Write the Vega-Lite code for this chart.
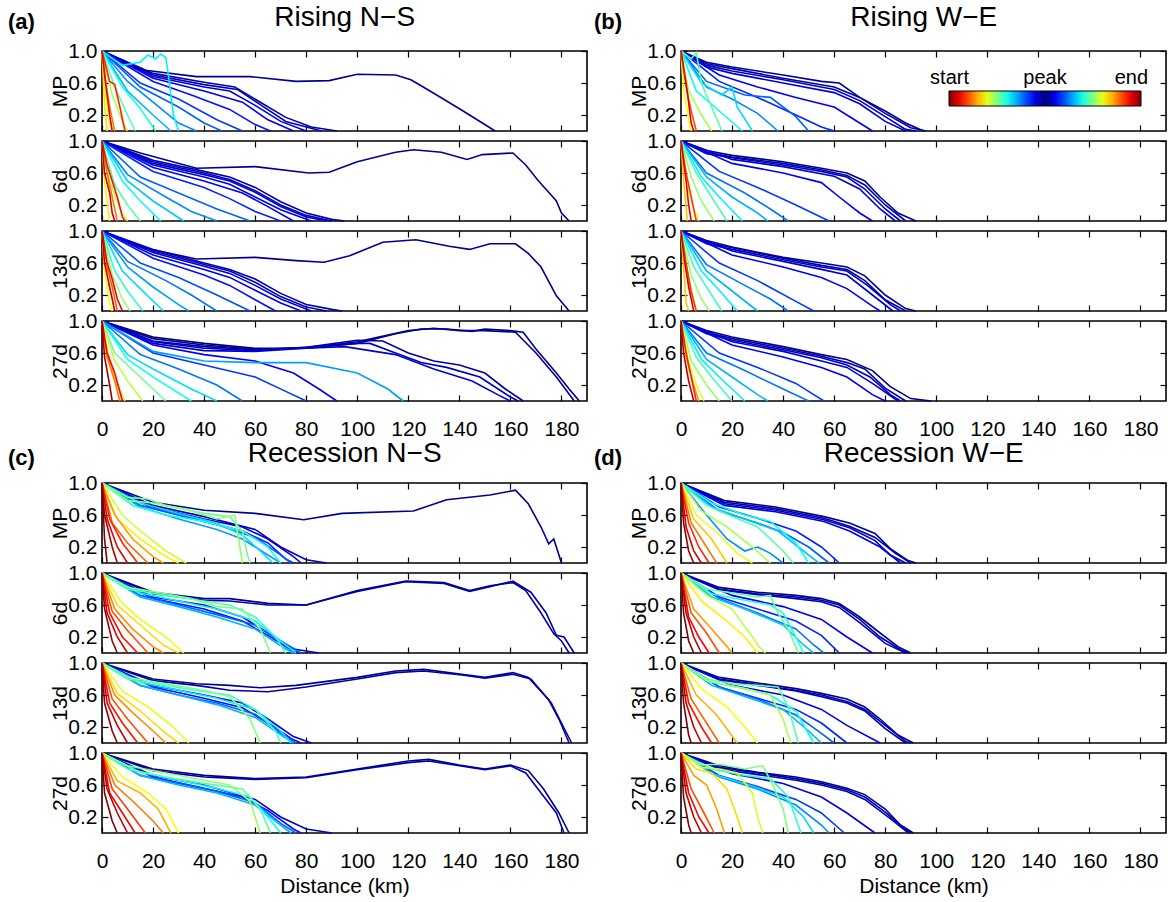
{
"$schema":"https://vega.github.io/schema/vega-lite/v6.json",
"background":"white",
"padding":{"left":8,"top":4,"right":0,"bottom":2},
"config":{
"font":"Liberation Sans",
"view":{"stroke":"black","strokeWidth":1.6},
"line":{"strokeWidth":1.6},
"axis":{"domain":false,"grid":false,"ticks":true,"tickSize":-6,"tickColor":"black","tickWidth":1.2,"labelFont":"Liberation Sans","labelFontSize":21,"labelColor":"black","titleFont":"Liberation Sans","titleFontSize":21,"titleFontWeight":"normal","titleColor":"black"},
"axisX":{"labelPadding":23,"titlePadding":4,"tickCount":10,"labelFlush":false},
"axisY":{"labelPadding":11,"titlePadding":-3},
"title":{"font":"Liberation Sans","color":"black"},
"legend":{"orient":"none","direction":"horizontal","gradientLength":192,"gradientThickness":15,"gradientStrokeColor":"black","gradientStrokeWidth":1,"labelFont":"Liberation Sans","labelFontSize":20,"labelColor":"black","padding":0}
},
"datasets":{
"a1":[
{"c":49,"x":0,"y":1},{"c":49,"x":17,"y":0.76},{"c":49,"x":37,"y":0.68},{"c":49,"x":58,"y":0.68},{"c":49,"x":76,"y":0.62},{"c":49,"x":89,"y":0.63},{"c":49,"x":100,"y":0.71},{"c":49,"x":115,"y":0.7},{"c":49,"x":121,"y":0.64},{"c":49,"x":128,"y":0.51},{"c":49,"x":141,"y":0.26},{"c":49,"x":154,"y":0},
{"c":48,"x":0,"y":1},{"c":48,"x":20,"y":0.72},{"c":48,"x":40,"y":0.61},{"c":48,"x":52,"y":0.55},{"c":48,"x":62,"y":0.36},{"c":48,"x":72,"y":0.17},{"c":48,"x":82,"y":0.05},{"c":48,"x":92,"y":0},
{"c":47,"x":0,"y":1},{"c":47,"x":20,"y":0.7},{"c":47,"x":40,"y":0.58},{"c":47,"x":53,"y":0.52},{"c":47,"x":62,"y":0.33},{"c":47,"x":72,"y":0.12},{"c":47,"x":86,"y":0},
{"c":46,"x":0,"y":1},{"c":46,"x":20,"y":0.68},{"c":46,"x":40,"y":0.55},{"c":46,"x":50,"y":0.5},{"c":46,"x":60,"y":0.32},{"c":46,"x":70,"y":0.12},{"c":46,"x":80,"y":0},
{"c":45,"x":0,"y":1},{"c":45,"x":20,"y":0.66},{"c":45,"x":40,"y":0.5},{"c":45,"x":55,"y":0.36},{"c":45,"x":65,"y":0.14},{"c":45,"x":75,"y":0},
{"c":43,"x":0,"y":1},{"c":43,"x":20,"y":0.62},{"c":43,"x":35,"y":0.45},{"c":43,"x":50,"y":0.27},{"c":43,"x":60,"y":0.08},{"c":43,"x":66,"y":0},
{"c":41,"x":0,"y":1},{"c":41,"x":15,"y":0.6},{"c":41,"x":30,"y":0.4},{"c":41,"x":45,"y":0.14},{"c":41,"x":55,"y":0},
{"c":39,"x":0,"y":1},{"c":39,"x":15,"y":0.55},{"c":39,"x":30,"y":0.3},{"c":39,"x":40,"y":0.1},{"c":39,"x":47,"y":0},
{"c":37,"x":0,"y":1},{"c":37,"x":10,"y":0.62},{"c":37,"x":20,"y":0.36},{"c":37,"x":30,"y":0.1},{"c":37,"x":37,"y":0},
{"c":35,"x":0,"y":1},{"c":35,"x":10,"y":0.5},{"c":35,"x":20,"y":0.2},{"c":35,"x":27,"y":0},
{"c":32,"x":0,"y":1},{"c":32,"x":8,"y":0.82},{"c":32,"x":15,"y":0.86},{"c":32,"x":18,"y":0.95},{"c":32,"x":21,"y":0.9},{"c":32,"x":23,"y":0.96},{"c":32,"x":25,"y":0.92},{"c":32,"x":26,"y":0.7},{"c":32,"x":27,"y":0.45},{"c":32,"x":28,"y":0.2},{"c":32,"x":30,"y":0},
{"c":30,"x":0,"y":1},{"c":30,"x":8,"y":0.55},{"c":30,"x":15,"y":0.28},{"c":30,"x":21,"y":0},
{"c":27,"x":0,"y":1},{"c":27,"x":5,"y":0.55},{"c":27,"x":10,"y":0.2},{"c":27,"x":13,"y":0},
{"c":23,"x":0,"y":1},{"c":23,"x":4,"y":0.45},{"c":23,"x":8,"y":0.12},{"c":23,"x":10,"y":0},
{"c":19,"x":0,"y":1},{"c":19,"x":1.5,"y":0.4},{"c":19,"x":3,"y":0.1},{"c":19,"x":4,"y":0},
{"c":17,"x":0,"y":1},{"c":17,"x":1,"y":0.3},{"c":17,"x":2,"y":0},
{"c":12,"x":0,"y":1},{"c":12,"x":2,"y":0.5},{"c":12,"x":3,"y":0.3},{"c":12,"x":5,"y":0},
{"c":8,"x":0,"y":1},{"c":8,"x":3,"y":0.62},{"c":8,"x":5,"y":0.58},{"c":8,"x":7,"y":0.3},{"c":8,"x":9,"y":0},
{"c":5,"x":0,"y":1},{"c":5,"x":1,"y":0.7},{"c":5,"x":2,"y":0.45},{"c":5,"x":3,"y":0.2},{"c":5,"x":4,"y":0}
],
"a2":[
{"c":49,"x":0,"y":1},{"c":49,"x":15,"y":0.85},{"c":49,"x":37,"y":0.66},{"c":49,"x":60,"y":0.68},{"c":49,"x":81,"y":0.6},{"c":49,"x":89,"y":0.61},{"c":49,"x":100,"y":0.74},{"c":49,"x":115,"y":0.86},{"c":49,"x":122,"y":0.89},{"c":49,"x":133,"y":0.86},{"c":49,"x":143,"y":0.77},{"c":49,"x":149,"y":0.83},{"c":49,"x":161,"y":0.85},{"c":49,"x":166,"y":0.7},{"c":49,"x":171,"y":0.5},{"c":49,"x":175,"y":0.36},{"c":49,"x":178,"y":0.25},{"c":49,"x":180,"y":0.1},{"c":49,"x":183,"y":0},
{"c":48,"x":0,"y":1},{"c":48,"x":20,"y":0.76},{"c":48,"x":40,"y":0.62},{"c":48,"x":50,"y":0.55},{"c":48,"x":60,"y":0.42},{"c":48,"x":70,"y":0.24},{"c":48,"x":80,"y":0.1},{"c":48,"x":90,"y":0.02},{"c":48,"x":95,"y":0},
{"c":47,"x":0,"y":1},{"c":47,"x":20,"y":0.74},{"c":47,"x":40,"y":0.6},{"c":47,"x":50,"y":0.52},{"c":47,"x":60,"y":0.38},{"c":47,"x":70,"y":0.2},{"c":47,"x":80,"y":0.07},{"c":47,"x":90,"y":0},
{"c":46,"x":0,"y":1},{"c":46,"x":20,"y":0.72},{"c":46,"x":40,"y":0.58},{"c":46,"x":50,"y":0.5},{"c":46,"x":60,"y":0.36},{"c":46,"x":70,"y":0.18},{"c":46,"x":80,"y":0.05},{"c":46,"x":88,"y":0},
{"c":45,"x":0,"y":1},{"c":45,"x":20,"y":0.7},{"c":45,"x":40,"y":0.55},{"c":45,"x":50,"y":0.46},{"c":45,"x":60,"y":0.3},{"c":45,"x":70,"y":0.14},{"c":45,"x":82,"y":0},
{"c":44,"x":0,"y":1},{"c":44,"x":20,"y":0.67},{"c":44,"x":40,"y":0.5},{"c":44,"x":55,"y":0.35},{"c":44,"x":65,"y":0.18},{"c":44,"x":75,"y":0},
{"c":42,"x":0,"y":1},{"c":42,"x":20,"y":0.62},{"c":42,"x":40,"y":0.42},{"c":42,"x":50,"y":0.28},{"c":42,"x":60,"y":0.12},{"c":42,"x":70,"y":0},
{"c":39,"x":0,"y":1},{"c":39,"x":15,"y":0.55},{"c":39,"x":30,"y":0.35},{"c":39,"x":45,"y":0.15},{"c":39,"x":58,"y":0},
{"c":37,"x":0,"y":1},{"c":37,"x":10,"y":0.58},{"c":37,"x":25,"y":0.3},{"c":37,"x":35,"y":0.12},{"c":37,"x":45,"y":0},
{"c":34,"x":0,"y":1},{"c":34,"x":10,"y":0.5},{"c":34,"x":20,"y":0.25},{"c":34,"x":32,"y":0},
{"c":31,"x":0,"y":1},{"c":31,"x":8,"y":0.5},{"c":31,"x":15,"y":0.25},{"c":31,"x":23,"y":0},
{"c":27,"x":0,"y":1},{"c":27,"x":5,"y":0.45},{"c":27,"x":10,"y":0.2},{"c":27,"x":15,"y":0},
{"c":22,"x":0,"y":1},{"c":22,"x":3,"y":0.5},{"c":22,"x":7,"y":0.15},{"c":22,"x":10,"y":0},
{"c":18,"x":0,"y":1},{"c":18,"x":1,"y":0.5},{"c":18,"x":2.5,"y":0.1},{"c":18,"x":3,"y":0},
{"c":12,"x":0,"y":1},{"c":12,"x":2,"y":0.6},{"c":12,"x":4,"y":0.3},{"c":12,"x":6,"y":0},
{"c":7,"x":0,"y":1},{"c":7,"x":2,"y":0.7},{"c":7,"x":4,"y":0.5},{"c":7,"x":6,"y":0.3},{"c":7,"x":8,"y":0.05},{"c":7,"x":9,"y":0},
{"c":4,"x":0,"y":1},{"c":4,"x":1,"y":0.6},{"c":4,"x":3,"y":0.35},{"c":4,"x":4,"y":0.1},{"c":4,"x":5,"y":0}
],
"a3":[
{"c":49,"x":0,"y":1},{"c":49,"x":15,"y":0.8},{"c":49,"x":37,"y":0.65},{"c":49,"x":60,"y":0.67},{"c":49,"x":76,"y":0.63},{"c":49,"x":87,"y":0.61},{"c":49,"x":97,"y":0.69},{"c":49,"x":110,"y":0.86},{"c":49,"x":123,"y":0.89},{"c":49,"x":136,"y":0.81},{"c":49,"x":144,"y":0.77},{"c":49,"x":152,"y":0.84},{"c":49,"x":162,"y":0.84},{"c":49,"x":167,"y":0.72},{"c":49,"x":172,"y":0.55},{"c":49,"x":178,"y":0.19},{"c":49,"x":183,"y":0},
{"c":48,"x":0,"y":1},{"c":48,"x":20,"y":0.77},{"c":48,"x":40,"y":0.6},{"c":48,"x":50,"y":0.52},{"c":48,"x":60,"y":0.4},{"c":48,"x":70,"y":0.22},{"c":48,"x":80,"y":0.08},{"c":48,"x":90,"y":0.02},{"c":48,"x":94,"y":0},
{"c":47,"x":0,"y":1},{"c":47,"x":20,"y":0.75},{"c":47,"x":40,"y":0.58},{"c":47,"x":50,"y":0.5},{"c":47,"x":60,"y":0.36},{"c":47,"x":70,"y":0.18},{"c":47,"x":80,"y":0.05},{"c":47,"x":88,"y":0},
{"c":46,"x":0,"y":1},{"c":46,"x":20,"y":0.73},{"c":46,"x":40,"y":0.56},{"c":46,"x":50,"y":0.47},{"c":46,"x":60,"y":0.32},{"c":46,"x":70,"y":0.15},{"c":46,"x":82,"y":0},
{"c":45,"x":0,"y":1},{"c":45,"x":20,"y":0.7},{"c":45,"x":40,"y":0.52},{"c":45,"x":50,"y":0.42},{"c":45,"x":60,"y":0.26},{"c":45,"x":70,"y":0.1},{"c":45,"x":78,"y":0},
{"c":43,"x":0,"y":1},{"c":43,"x":20,"y":0.66},{"c":43,"x":40,"y":0.45},{"c":43,"x":50,"y":0.32},{"c":43,"x":60,"y":0.14},{"c":43,"x":68,"y":0},
{"c":40,"x":0,"y":1},{"c":40,"x":15,"y":0.6},{"c":40,"x":30,"y":0.42},{"c":40,"x":45,"y":0.2},{"c":40,"x":58,"y":0},
{"c":38,"x":0,"y":1},{"c":38,"x":10,"y":0.62},{"c":38,"x":25,"y":0.38},{"c":38,"x":35,"y":0.2},{"c":38,"x":45,"y":0},
{"c":36,"x":0,"y":1},{"c":36,"x":10,"y":0.55},{"c":36,"x":20,"y":0.3},{"c":36,"x":30,"y":0.08},{"c":36,"x":34,"y":0},
{"c":33,"x":0,"y":1},{"c":33,"x":8,"y":0.5},{"c":33,"x":15,"y":0.28},{"c":33,"x":24,"y":0},
{"c":29,"x":0,"y":1},{"c":29,"x":5,"y":0.5},{"c":29,"x":10,"y":0.25},{"c":29,"x":16,"y":0},
{"c":24,"x":0,"y":1},{"c":24,"x":4,"y":0.45},{"c":24,"x":8,"y":0.15},{"c":24,"x":11,"y":0},
{"c":19,"x":0,"y":1},{"c":19,"x":1,"y":0.5},{"c":19,"x":3,"y":0.1},{"c":19,"x":4,"y":0},
{"c":11,"x":0,"y":1},{"c":11,"x":2,"y":0.55},{"c":11,"x":4,"y":0.3},{"c":11,"x":6,"y":0},
{"c":6,"x":0,"y":1},{"c":6,"x":2,"y":0.6},{"c":6,"x":4,"y":0.4},{"c":6,"x":6,"y":0.15},{"c":6,"x":8,"y":0},
{"c":3,"x":0,"y":1},{"c":3,"x":1,"y":0.6},{"c":3,"x":3,"y":0.3},{"c":3,"x":5,"y":0}
],
"a4":[
{"c":50,"x":0,"y":1},{"c":50,"x":20,"y":0.8},{"c":50,"x":40,"y":0.72},{"c":50,"x":60,"y":0.66},{"c":50,"x":80,"y":0.66},{"c":50,"x":100,"y":0.72},{"c":50,"x":115,"y":0.84},{"c":50,"x":125,"y":0.9},{"c":50,"x":135,"y":0.9},{"c":50,"x":145,"y":0.87},{"c":50,"x":150,"y":0.9},{"c":50,"x":160,"y":0.88},{"c":50,"x":165,"y":0.86},{"c":50,"x":170,"y":0.65},{"c":50,"x":178,"y":0.35},{"c":50,"x":183,"y":0.15},{"c":50,"x":187,"y":0},
{"c":49,"x":0,"y":1},{"c":49,"x":20,"y":0.78},{"c":49,"x":40,"y":0.7},{"c":49,"x":60,"y":0.65},{"c":49,"x":80,"y":0.66},{"c":49,"x":100,"y":0.74},{"c":49,"x":120,"y":0.88},{"c":49,"x":130,"y":0.91},{"c":49,"x":140,"y":0.88},{"c":49,"x":150,"y":0.88},{"c":49,"x":162,"y":0.86},{"c":49,"x":170,"y":0.6},{"c":49,"x":178,"y":0.3},{"c":49,"x":185,"y":0},
{"c":48,"x":0,"y":1},{"c":48,"x":20,"y":0.75},{"c":48,"x":40,"y":0.68},{"c":48,"x":60,"y":0.64},{"c":48,"x":80,"y":0.67},{"c":48,"x":100,"y":0.76},{"c":48,"x":110,"y":0.75},{"c":48,"x":120,"y":0.6},{"c":48,"x":130,"y":0.5},{"c":48,"x":140,"y":0.45},{"c":48,"x":150,"y":0.35},{"c":48,"x":158,"y":0.15},{"c":48,"x":165,"y":0},
{"c":47,"x":0,"y":1},{"c":47,"x":20,"y":0.74},{"c":47,"x":40,"y":0.66},{"c":47,"x":60,"y":0.63},{"c":47,"x":80,"y":0.67},{"c":47,"x":100,"y":0.72},{"c":47,"x":105,"y":0.72},{"c":47,"x":115,"y":0.6},{"c":47,"x":125,"y":0.48},{"c":47,"x":135,"y":0.42},{"c":47,"x":148,"y":0.3},{"c":47,"x":160,"y":0.05},{"c":47,"x":163,"y":0},
{"c":46,"x":0,"y":1},{"c":46,"x":20,"y":0.72},{"c":46,"x":40,"y":0.63},{"c":46,"x":60,"y":0.62},{"c":46,"x":80,"y":0.66},{"c":46,"x":95,"y":0.68},{"c":46,"x":115,"y":0.58},{"c":46,"x":130,"y":0.4},{"c":46,"x":145,"y":0.25},{"c":46,"x":155,"y":0.08},{"c":46,"x":160,"y":0},
{"c":44,"x":0,"y":1},{"c":44,"x":20,"y":0.7},{"c":44,"x":40,"y":0.58},{"c":44,"x":60,"y":0.5},{"c":44,"x":75,"y":0.35},{"c":44,"x":85,"y":0.15},{"c":44,"x":92,"y":0},
{"c":41,"x":0,"y":1},{"c":41,"x":20,"y":0.6},{"c":41,"x":40,"y":0.45},{"c":41,"x":60,"y":0.3},{"c":41,"x":72,"y":0.12},{"c":41,"x":80,"y":0},
{"c":36,"x":0,"y":1},{"c":36,"x":20,"y":0.62},{"c":36,"x":40,"y":0.5},{"c":36,"x":60,"y":0.48},{"c":36,"x":80,"y":0.48},{"c":36,"x":100,"y":0.35},{"c":36,"x":112,"y":0.15},{"c":36,"x":118,"y":0},
{"c":38,"x":0,"y":1},{"c":38,"x":15,"y":0.58},{"c":38,"x":30,"y":0.4},{"c":38,"x":45,"y":0.2},{"c":38,"x":55,"y":0},
{"c":33,"x":0,"y":1},{"c":33,"x":10,"y":0.58},{"c":33,"x":20,"y":0.4},{"c":33,"x":35,"y":0.15},{"c":33,"x":45,"y":0},
{"c":30,"x":0,"y":1},{"c":30,"x":10,"y":0.52},{"c":30,"x":20,"y":0.3},{"c":30,"x":30,"y":0.1},{"c":30,"x":35,"y":0},
{"c":26,"x":0,"y":1},{"c":26,"x":5,"y":0.6},{"c":26,"x":15,"y":0.3},{"c":26,"x":25,"y":0},
{"c":22,"x":0,"y":1},{"c":22,"x":5,"y":0.5},{"c":22,"x":10,"y":0.25},{"c":22,"x":16,"y":0},
{"c":18,"x":0,"y":1},{"c":18,"x":3,"y":0.5},{"c":18,"x":6,"y":0.2},{"c":18,"x":9,"y":0},
{"c":12,"x":0,"y":1},{"c":12,"x":2,"y":0.55},{"c":12,"x":5,"y":0.25},{"c":12,"x":7,"y":0},
{"c":6,"x":0,"y":1},{"c":6,"x":2,"y":0.6},{"c":6,"x":5,"y":0.35},{"c":6,"x":8,"y":0},
{"c":2,"x":0,"y":1},{"c":2,"x":1,"y":0.55},{"c":2,"x":3,"y":0.2},{"c":2,"x":4,"y":0}
],
"b1":[
{"c":49,"x":0,"y":1},{"c":49,"x":10,"y":0.86},{"c":49,"x":20,"y":0.8},{"c":49,"x":40,"y":0.7},{"c":49,"x":55,"y":0.62},{"c":49,"x":62,"y":0.6},{"c":49,"x":70,"y":0.42},{"c":49,"x":80,"y":0.25},{"c":49,"x":88,"y":0.1},{"c":49,"x":95,"y":0},
{"c":48,"x":0,"y":1},{"c":48,"x":10,"y":0.84},{"c":48,"x":20,"y":0.78},{"c":48,"x":40,"y":0.66},{"c":48,"x":60,"y":0.55},{"c":48,"x":70,"y":0.42},{"c":48,"x":80,"y":0.22},{"c":48,"x":90,"y":0.04},{"c":48,"x":96,"y":0},
{"c":47,"x":0,"y":1},{"c":47,"x":10,"y":0.82},{"c":47,"x":20,"y":0.75},{"c":47,"x":40,"y":0.64},{"c":47,"x":60,"y":0.52},{"c":47,"x":70,"y":0.38},{"c":47,"x":80,"y":0.18},{"c":47,"x":88,"y":0.02},{"c":47,"x":92,"y":0},
{"c":46,"x":0,"y":1},{"c":46,"x":10,"y":0.8},{"c":46,"x":20,"y":0.72},{"c":46,"x":40,"y":0.6},{"c":46,"x":60,"y":0.48},{"c":46,"x":70,"y":0.34},{"c":46,"x":80,"y":0.12},{"c":46,"x":88,"y":0},
{"c":44,"x":0,"y":1},{"c":44,"x":15,"y":0.7},{"c":44,"x":30,"y":0.55},{"c":44,"x":45,"y":0.42},{"c":44,"x":60,"y":0.3},{"c":44,"x":70,"y":0.1},{"c":44,"x":75,"y":0},
{"c":42,"x":0,"y":1},{"c":42,"x":15,"y":0.62},{"c":42,"x":30,"y":0.42},{"c":42,"x":45,"y":0.2},{"c":42,"x":55,"y":0.05},{"c":42,"x":60,"y":0},
{"c":39,"x":0,"y":1},{"c":39,"x":10,"y":0.62},{"c":39,"x":25,"y":0.45},{"c":39,"x":35,"y":0.42},{"c":39,"x":40,"y":0.3},{"c":39,"x":45,"y":0.18},{"c":39,"x":50,"y":0},
{"c":37,"x":0,"y":1},{"c":37,"x":10,"y":0.55},{"c":37,"x":20,"y":0.4},{"c":37,"x":30,"y":0.22},{"c":37,"x":38,"y":0},
{"c":33,"x":0,"y":1},{"c":33,"x":8,"y":0.6},{"c":33,"x":16,"y":0.45},{"c":33,"x":20,"y":0.55},{"c":33,"x":22,"y":0.3},{"c":33,"x":28,"y":0},
{"c":31,"x":0,"y":1},{"c":31,"x":6,"y":0.5},{"c":31,"x":15,"y":0.25},{"c":31,"x":24,"y":0},
{"c":27,"x":0,"y":1},{"c":27,"x":4,"y":0.9},{"c":27,"x":6,"y":0.98},{"c":27,"x":8,"y":0.6},{"c":27,"x":12,"y":0.3},{"c":27,"x":16,"y":0},
{"c":23,"x":0,"y":1},{"c":23,"x":3,"y":0.5},{"c":23,"x":8,"y":0.2},{"c":23,"x":12,"y":0},
{"c":19,"x":0,"y":1},{"c":19,"x":1,"y":0.5},{"c":19,"x":3,"y":0.15},{"c":19,"x":4,"y":0},
{"c":10,"x":0,"y":1},{"c":10,"x":2,"y":0.55},{"c":10,"x":4,"y":0.25},{"c":10,"x":6,"y":0},
{"c":5,"x":0,"y":1},{"c":5,"x":2,"y":0.6},{"c":5,"x":3,"y":0.35},{"c":5,"x":4,"y":0.1},{"c":5,"x":5,"y":0}
],
"b2":[
{"c":49,"x":0,"y":1},{"c":49,"x":10,"y":0.88},{"c":49,"x":20,"y":0.82},{"c":49,"x":40,"y":0.74},{"c":49,"x":55,"y":0.66},{"c":49,"x":65,"y":0.6},{"c":49,"x":72,"y":0.5},{"c":49,"x":78,"y":0.3},{"c":49,"x":85,"y":0.1},{"c":49,"x":92,"y":0},
{"c":48,"x":0,"y":1},{"c":48,"x":10,"y":0.86},{"c":48,"x":20,"y":0.8},{"c":48,"x":40,"y":0.72},{"c":48,"x":55,"y":0.64},{"c":48,"x":65,"y":0.57},{"c":48,"x":72,"y":0.45},{"c":48,"x":80,"y":0.2},{"c":48,"x":88,"y":0},
{"c":47,"x":0,"y":1},{"c":47,"x":10,"y":0.84},{"c":47,"x":20,"y":0.79},{"c":47,"x":40,"y":0.7},{"c":47,"x":55,"y":0.62},{"c":47,"x":65,"y":0.55},{"c":47,"x":72,"y":0.4},{"c":47,"x":80,"y":0.15},{"c":47,"x":86,"y":0},
{"c":46,"x":0,"y":1},{"c":46,"x":20,"y":0.77},{"c":46,"x":40,"y":0.68},{"c":46,"x":60,"y":0.56},{"c":46,"x":70,"y":0.4},{"c":46,"x":78,"y":0.15},{"c":46,"x":84,"y":0},
{"c":44,"x":0,"y":1},{"c":44,"x":20,"y":0.72},{"c":44,"x":40,"y":0.6},{"c":44,"x":55,"y":0.48},{"c":44,"x":62,"y":0.3},{"c":44,"x":70,"y":0.1},{"c":44,"x":75,"y":0},
{"c":41,"x":0,"y":1},{"c":41,"x":15,"y":0.62},{"c":41,"x":30,"y":0.42},{"c":41,"x":45,"y":0.2},{"c":41,"x":58,"y":0},
{"c":38,"x":0,"y":1},{"c":38,"x":10,"y":0.6},{"c":38,"x":25,"y":0.35},{"c":38,"x":35,"y":0.15},{"c":38,"x":42,"y":0},
{"c":35,"x":0,"y":1},{"c":35,"x":10,"y":0.55},{"c":35,"x":20,"y":0.3},{"c":35,"x":30,"y":0.1},{"c":35,"x":34,"y":0},
{"c":32,"x":0,"y":1},{"c":32,"x":8,"y":0.55},{"c":32,"x":15,"y":0.3},{"c":32,"x":24,"y":0},
{"c":28,"x":0,"y":1},{"c":28,"x":6,"y":0.6},{"c":28,"x":12,"y":0.3},{"c":28,"x":18,"y":0},
{"c":24,"x":0,"y":1},{"c":24,"x":4,"y":0.55},{"c":24,"x":8,"y":0.25},{"c":24,"x":13,"y":0},
{"c":20,"x":0,"y":1},{"c":20,"x":2,"y":0.5},{"c":20,"x":5,"y":0.15},{"c":20,"x":7,"y":0},
{"c":16,"x":0,"y":1},{"c":16,"x":1,"y":0.5},{"c":16,"x":2.5,"y":0},
{"c":9,"x":0,"y":1},{"c":9,"x":2,"y":0.6},{"c":9,"x":4,"y":0.3},{"c":9,"x":6,"y":0},
{"c":5,"x":0,"y":1},{"c":5,"x":2,"y":0.5},{"c":5,"x":3,"y":0.2},{"c":5,"x":4,"y":0}
],
"b3":[
{"c":49,"x":0,"y":1},{"c":49,"x":10,"y":0.88},{"c":49,"x":20,"y":0.8},{"c":49,"x":40,"y":0.67},{"c":49,"x":55,"y":0.6},{"c":49,"x":65,"y":0.55},{"c":49,"x":72,"y":0.44},{"c":49,"x":80,"y":0.2},{"c":49,"x":88,"y":0.03},{"c":49,"x":92,"y":0},
{"c":48,"x":0,"y":1},{"c":48,"x":10,"y":0.86},{"c":48,"x":20,"y":0.79},{"c":48,"x":40,"y":0.66},{"c":48,"x":55,"y":0.57},{"c":48,"x":65,"y":0.52},{"c":48,"x":72,"y":0.38},{"c":48,"x":80,"y":0.14},{"c":48,"x":88,"y":0},
{"c":47,"x":0,"y":1},{"c":47,"x":10,"y":0.84},{"c":47,"x":20,"y":0.77},{"c":47,"x":40,"y":0.64},{"c":47,"x":55,"y":0.55},{"c":47,"x":65,"y":0.5},{"c":47,"x":73,"y":0.32},{"c":47,"x":82,"y":0.08},{"c":47,"x":86,"y":0},
{"c":46,"x":0,"y":1},{"c":46,"x":20,"y":0.75},{"c":46,"x":40,"y":0.62},{"c":46,"x":55,"y":0.52},{"c":46,"x":65,"y":0.45},{"c":46,"x":75,"y":0.2},{"c":46,"x":83,"y":0},
{"c":44,"x":0,"y":1},{"c":44,"x":20,"y":0.7},{"c":44,"x":40,"y":0.55},{"c":44,"x":55,"y":0.42},{"c":44,"x":65,"y":0.28},{"c":44,"x":75,"y":0.06},{"c":44,"x":78,"y":0},
{"c":41,"x":0,"y":1},{"c":41,"x":15,"y":0.6},{"c":41,"x":30,"y":0.38},{"c":41,"x":45,"y":0.12},{"c":41,"x":52,"y":0},
{"c":38,"x":0,"y":1},{"c":38,"x":10,"y":0.58},{"c":38,"x":25,"y":0.32},{"c":38,"x":35,"y":0.15},{"c":38,"x":42,"y":0},
{"c":35,"x":0,"y":1},{"c":35,"x":10,"y":0.5},{"c":35,"x":20,"y":0.25},{"c":35,"x":30,"y":0},
{"c":32,"x":0,"y":1},{"c":32,"x":8,"y":0.5},{"c":32,"x":15,"y":0.26},{"c":32,"x":22,"y":0},
{"c":28,"x":0,"y":1},{"c":28,"x":5,"y":0.55},{"c":28,"x":10,"y":0.3},{"c":28,"x":16,"y":0},
{"c":24,"x":0,"y":1},{"c":24,"x":4,"y":0.45},{"c":24,"x":8,"y":0.15},{"c":24,"x":11,"y":0},
{"c":20,"x":0,"y":1},{"c":20,"x":2,"y":0.5},{"c":20,"x":5,"y":0.1},{"c":20,"x":6,"y":0},
{"c":16,"x":0,"y":1},{"c":16,"x":1,"y":0.55},{"c":16,"x":2,"y":0.1},{"c":16,"x":3,"y":0},
{"c":9,"x":0,"y":1},{"c":9,"x":2,"y":0.6},{"c":9,"x":4,"y":0.25},{"c":9,"x":6,"y":0},
{"c":4,"x":0,"y":1},{"c":4,"x":1.5,"y":0.6},{"c":4,"x":3,"y":0.3},{"c":4,"x":5,"y":0}
],
"b4":[
{"c":49,"x":0,"y":1},{"c":49,"x":10,"y":0.88},{"c":49,"x":20,"y":0.8},{"c":49,"x":40,"y":0.68},{"c":49,"x":55,"y":0.58},{"c":49,"x":65,"y":0.52},{"c":49,"x":75,"y":0.38},{"c":49,"x":82,"y":0.18},{"c":49,"x":90,"y":0.03},{"c":49,"x":98,"y":0},
{"c":48,"x":0,"y":1},{"c":48,"x":10,"y":0.86},{"c":48,"x":20,"y":0.78},{"c":48,"x":40,"y":0.66},{"c":48,"x":55,"y":0.56},{"c":48,"x":65,"y":0.48},{"c":48,"x":72,"y":0.4},{"c":48,"x":80,"y":0.16},{"c":48,"x":88,"y":0},
{"c":47,"x":0,"y":1},{"c":47,"x":10,"y":0.84},{"c":47,"x":20,"y":0.76},{"c":47,"x":40,"y":0.64},{"c":47,"x":55,"y":0.54},{"c":47,"x":65,"y":0.45},{"c":47,"x":74,"y":0.3},{"c":47,"x":82,"y":0.08},{"c":47,"x":86,"y":0},
{"c":46,"x":0,"y":1},{"c":46,"x":20,"y":0.74},{"c":46,"x":40,"y":0.62},{"c":46,"x":55,"y":0.5},{"c":46,"x":65,"y":0.42},{"c":46,"x":75,"y":0.22},{"c":46,"x":85,"y":0},
{"c":44,"x":0,"y":1},{"c":44,"x":20,"y":0.7},{"c":44,"x":40,"y":0.55},{"c":44,"x":55,"y":0.42},{"c":44,"x":65,"y":0.3},{"c":44,"x":75,"y":0.08},{"c":44,"x":80,"y":0},
{"c":41,"x":0,"y":1},{"c":41,"x":15,"y":0.6},{"c":41,"x":30,"y":0.42},{"c":41,"x":45,"y":0.22},{"c":41,"x":52,"y":0.08},{"c":41,"x":56,"y":0},
{"c":38,"x":0,"y":1},{"c":38,"x":10,"y":0.6},{"c":38,"x":25,"y":0.38},{"c":38,"x":40,"y":0.15},{"c":38,"x":50,"y":0},
{"c":35,"x":0,"y":1},{"c":35,"x":10,"y":0.52},{"c":35,"x":20,"y":0.3},{"c":35,"x":30,"y":0.08},{"c":35,"x":34,"y":0},
{"c":32,"x":0,"y":1},{"c":32,"x":8,"y":0.52},{"c":32,"x":15,"y":0.3},{"c":32,"x":25,"y":0},
{"c":28,"x":0,"y":1},{"c":28,"x":6,"y":0.55},{"c":28,"x":12,"y":0.3},{"c":28,"x":20,"y":0},
{"c":24,"x":0,"y":1},{"c":24,"x":4,"y":0.5},{"c":24,"x":10,"y":0.2},{"c":24,"x":15,"y":0},
{"c":20,"x":0,"y":1},{"c":20,"x":3,"y":0.5},{"c":20,"x":6,"y":0.2},{"c":20,"x":9,"y":0},
{"c":14,"x":0,"y":1},{"c":14,"x":2,"y":0.55},{"c":14,"x":5,"y":0.2},{"c":14,"x":7,"y":0},
{"c":8,"x":0,"y":1},{"c":8,"x":2,"y":0.6},{"c":8,"x":4,"y":0.3},{"c":8,"x":6,"y":0},
{"c":3,"x":0,"y":1},{"c":3,"x":1,"y":0.6},{"c":3,"x":3,"y":0.25},{"c":3,"x":5,"y":0}
],
"c1":[
{"c":51,"x":0,"y":1},{"c":51,"x":20,"y":0.76},{"c":51,"x":40,"y":0.66},{"c":51,"x":60,"y":0.62},{"c":51,"x":79,"y":0.54},{"c":51,"x":94,"y":0.62},{"c":51,"x":122,"y":0.65},{"c":51,"x":135,"y":0.79},{"c":51,"x":152,"y":0.85},{"c":51,"x":162,"y":0.91},{"c":51,"x":167,"y":0.74},{"c":51,"x":172,"y":0.45},{"c":51,"x":175,"y":0.24},{"c":51,"x":177,"y":0.3},{"c":51,"x":178,"y":0.2},{"c":51,"x":180,"y":0},
{"c":53,"x":0,"y":1},{"c":53,"x":20,"y":0.72},{"c":53,"x":40,"y":0.58},{"c":53,"x":60,"y":0.42},{"c":53,"x":70,"y":0.2},{"c":53,"x":80,"y":0.04},{"c":53,"x":88,"y":0},
{"c":55,"x":0,"y":1},{"c":55,"x":20,"y":0.7},{"c":55,"x":40,"y":0.55},{"c":55,"x":55,"y":0.45},{"c":55,"x":65,"y":0.3},{"c":55,"x":75,"y":0.08},{"c":55,"x":78,"y":0},
{"c":58,"x":0,"y":1},{"c":58,"x":20,"y":0.68},{"c":58,"x":40,"y":0.52},{"c":58,"x":55,"y":0.4},{"c":58,"x":65,"y":0.25},{"c":58,"x":72,"y":0.05},{"c":58,"x":75,"y":0},
{"c":61,"x":0,"y":1},{"c":61,"x":15,"y":0.72},{"c":61,"x":30,"y":0.6},{"c":61,"x":45,"y":0.48},{"c":61,"x":60,"y":0.32},{"c":61,"x":70,"y":0.1},{"c":61,"x":74,"y":0},
{"c":64,"x":0,"y":1},{"c":64,"x":15,"y":0.7},{"c":64,"x":30,"y":0.55},{"c":64,"x":45,"y":0.42},{"c":64,"x":55,"y":0.3},{"c":64,"x":65,"y":0.1},{"c":64,"x":70,"y":0},
{"c":67,"x":0,"y":1},{"c":67,"x":15,"y":0.75},{"c":67,"x":30,"y":0.62},{"c":67,"x":45,"y":0.5},{"c":67,"x":55,"y":0.35},{"c":67,"x":62,"y":0.15},{"c":67,"x":67,"y":0},
{"c":70,"x":0,"y":1},{"c":70,"x":12,"y":0.72},{"c":70,"x":25,"y":0.6},{"c":70,"x":40,"y":0.52},{"c":70,"x":55,"y":0.4},{"c":70,"x":65,"y":0.2},{"c":70,"x":70,"y":0},
{"c":74,"x":0,"y":1},{"c":74,"x":10,"y":0.82},{"c":74,"x":18,"y":0.8},{"c":74,"x":25,"y":0.72},{"c":74,"x":40,"y":0.62},{"c":74,"x":50,"y":0.58},{"c":74,"x":55,"y":0.4},{"c":74,"x":57,"y":0.1},{"c":74,"x":58,"y":0},
{"c":76,"x":0,"y":1},{"c":76,"x":10,"y":0.78},{"c":76,"x":20,"y":0.75},{"c":76,"x":35,"y":0.65},{"c":76,"x":45,"y":0.55},{"c":76,"x":52,"y":0.6},{"c":76,"x":54,"y":0.2},{"c":76,"x":55,"y":0},
{"c":79,"x":0,"y":1},{"c":79,"x":8,"y":0.6},{"c":79,"x":15,"y":0.4},{"c":79,"x":25,"y":0.15},{"c":79,"x":33,"y":0},
{"c":82,"x":0,"y":1},{"c":82,"x":6,"y":0.55},{"c":82,"x":15,"y":0.3},{"c":82,"x":25,"y":0.08},{"c":82,"x":30,"y":0},
{"c":86,"x":0,"y":1},{"c":86,"x":5,"y":0.6},{"c":86,"x":12,"y":0.3},{"c":86,"x":20,"y":0.08},{"c":86,"x":24,"y":0},
{"c":89,"x":0,"y":1},{"c":89,"x":4,"y":0.5},{"c":89,"x":10,"y":0.25},{"c":89,"x":18,"y":0},
{"c":92,"x":0,"y":1},{"c":92,"x":3,"y":0.55},{"c":92,"x":8,"y":0.25},{"c":92,"x":14,"y":0},
{"c":95,"x":0,"y":1},{"c":95,"x":2,"y":0.55},{"c":95,"x":6,"y":0.2},{"c":95,"x":10,"y":0},
{"c":98,"x":0,"y":1},{"c":98,"x":1,"y":0.6},{"c":98,"x":4,"y":0.2},{"c":98,"x":6,"y":0},
{"c":100,"x":0,"y":1},{"c":100,"x":1,"y":0.3},{"c":100,"x":2,"y":0}
],
"c2":[
{"c":51,"x":0,"y":1},{"c":51,"x":20,"y":0.76},{"c":51,"x":40,"y":0.68},{"c":51,"x":50,"y":0.68},{"c":51,"x":65,"y":0.62},{"c":51,"x":80,"y":0.6},{"c":51,"x":100,"y":0.78},{"c":51,"x":119,"y":0.9},{"c":51,"x":134,"y":0.88},{"c":51,"x":144,"y":0.78},{"c":51,"x":152,"y":0.84},{"c":51,"x":161,"y":0.88},{"c":51,"x":166,"y":0.78},{"c":51,"x":172,"y":0.5},{"c":51,"x":177,"y":0.24},{"c":51,"x":180,"y":0.15},{"c":51,"x":183,"y":0},
{"c":52,"x":0,"y":1},{"c":52,"x":20,"y":0.74},{"c":52,"x":40,"y":0.66},{"c":52,"x":50,"y":0.65},{"c":52,"x":65,"y":0.6},{"c":52,"x":80,"y":0.6},{"c":52,"x":100,"y":0.77},{"c":52,"x":119,"y":0.89},{"c":52,"x":134,"y":0.87},{"c":52,"x":144,"y":0.77},{"c":52,"x":152,"y":0.83},{"c":52,"x":161,"y":0.9},{"c":52,"x":168,"y":0.76},{"c":52,"x":174,"y":0.5},{"c":52,"x":178,"y":0.22},{"c":52,"x":181,"y":0.2},{"c":52,"x":185,"y":0},
{"c":54,"x":0,"y":1},{"c":54,"x":20,"y":0.7},{"c":54,"x":40,"y":0.6},{"c":54,"x":55,"y":0.45},{"c":54,"x":65,"y":0.25},{"c":54,"x":75,"y":0.05},{"c":54,"x":85,"y":0},
{"c":57,"x":0,"y":1},{"c":57,"x":20,"y":0.68},{"c":57,"x":40,"y":0.55},{"c":57,"x":55,"y":0.4},{"c":57,"x":65,"y":0.22},{"c":57,"x":75,"y":0.02},{"c":57,"x":78,"y":0},
{"c":61,"x":0,"y":1},{"c":61,"x":15,"y":0.72},{"c":61,"x":30,"y":0.6},{"c":61,"x":45,"y":0.48},{"c":61,"x":60,"y":0.35},{"c":61,"x":70,"y":0.15},{"c":61,"x":78,"y":0},
{"c":65,"x":0,"y":1},{"c":65,"x":15,"y":0.7},{"c":65,"x":30,"y":0.58},{"c":65,"x":45,"y":0.45},{"c":65,"x":60,"y":0.3},{"c":65,"x":72,"y":0.05},{"c":65,"x":75,"y":0},
{"c":68,"x":0,"y":1},{"c":68,"x":15,"y":0.75},{"c":68,"x":30,"y":0.65},{"c":68,"x":45,"y":0.55},{"c":68,"x":60,"y":0.4},{"c":68,"x":70,"y":0.15},{"c":68,"x":76,"y":0},
{"c":72,"x":0,"y":1},{"c":72,"x":10,"y":0.8},{"c":72,"x":25,"y":0.72},{"c":72,"x":40,"y":0.65},{"c":72,"x":50,"y":0.6},{"c":72,"x":60,"y":0.45},{"c":72,"x":68,"y":0.2},{"c":72,"x":72,"y":0},
{"c":75,"x":0,"y":1},{"c":75,"x":10,"y":0.82},{"c":75,"x":25,"y":0.74},{"c":75,"x":35,"y":0.68},{"c":75,"x":45,"y":0.58},{"c":75,"x":55,"y":0.55},{"c":75,"x":62,"y":0.3},{"c":75,"x":66,"y":0},
{"c":80,"x":0,"y":1},{"c":80,"x":8,"y":0.62},{"c":80,"x":15,"y":0.42},{"c":80,"x":25,"y":0.2},{"c":80,"x":32,"y":0},
{"c":83,"x":0,"y":1},{"c":83,"x":6,"y":0.6},{"c":83,"x":15,"y":0.35},{"c":83,"x":24,"y":0.1},{"c":83,"x":30,"y":0},
{"c":87,"x":0,"y":1},{"c":87,"x":5,"y":0.55},{"c":87,"x":12,"y":0.3},{"c":87,"x":20,"y":0.08},{"c":87,"x":24,"y":0},
{"c":90,"x":0,"y":1},{"c":90,"x":4,"y":0.52},{"c":90,"x":10,"y":0.28},{"c":90,"x":18,"y":0},
{"c":93,"x":0,"y":1},{"c":93,"x":3,"y":0.5},{"c":93,"x":8,"y":0.2},{"c":93,"x":14,"y":0},
{"c":96,"x":0,"y":1},{"c":96,"x":2,"y":0.5},{"c":96,"x":6,"y":0.2},{"c":96,"x":10,"y":0},
{"c":99,"x":0,"y":1},{"c":99,"x":1,"y":0.55},{"c":99,"x":4,"y":0.15},{"c":99,"x":6,"y":0}
],
"c3":[
{"c":51,"x":0,"y":1},{"c":51,"x":20,"y":0.8},{"c":51,"x":37,"y":0.74},{"c":51,"x":50,"y":0.72},{"c":51,"x":62,"y":0.69},{"c":51,"x":76,"y":0.72},{"c":51,"x":100,"y":0.82},{"c":51,"x":115,"y":0.9},{"c":51,"x":126,"y":0.92},{"c":51,"x":141,"y":0.86},{"c":51,"x":150,"y":0.82},{"c":51,"x":161,"y":0.88},{"c":51,"x":167,"y":0.82},{"c":51,"x":175,"y":0.54},{"c":51,"x":179,"y":0.3},{"c":51,"x":183,"y":0},
{"c":52,"x":0,"y":1},{"c":52,"x":20,"y":0.78},{"c":52,"x":37,"y":0.72},{"c":52,"x":50,"y":0.66},{"c":52,"x":65,"y":0.64},{"c":52,"x":80,"y":0.7},{"c":52,"x":100,"y":0.8},{"c":52,"x":115,"y":0.88},{"c":52,"x":126,"y":0.9},{"c":52,"x":141,"y":0.85},{"c":52,"x":150,"y":0.81},{"c":52,"x":161,"y":0.86},{"c":52,"x":168,"y":0.8},{"c":52,"x":176,"y":0.5},{"c":52,"x":180,"y":0.25},{"c":52,"x":184,"y":0},
{"c":54,"x":0,"y":1},{"c":54,"x":20,"y":0.72},{"c":54,"x":40,"y":0.6},{"c":54,"x":55,"y":0.5},{"c":54,"x":65,"y":0.3},{"c":54,"x":75,"y":0.08},{"c":54,"x":82,"y":0},
{"c":57,"x":0,"y":1},{"c":57,"x":20,"y":0.7},{"c":57,"x":40,"y":0.56},{"c":57,"x":55,"y":0.44},{"c":57,"x":65,"y":0.25},{"c":57,"x":75,"y":0.04},{"c":57,"x":78,"y":0},
{"c":61,"x":0,"y":1},{"c":61,"x":15,"y":0.72},{"c":61,"x":30,"y":0.6},{"c":61,"x":45,"y":0.5},{"c":61,"x":60,"y":0.36},{"c":61,"x":70,"y":0.12},{"c":61,"x":76,"y":0},
{"c":65,"x":0,"y":1},{"c":65,"x":15,"y":0.72},{"c":65,"x":30,"y":0.6},{"c":65,"x":45,"y":0.48},{"c":65,"x":60,"y":0.32},{"c":65,"x":72,"y":0.06},{"c":65,"x":75,"y":0},
{"c":68,"x":0,"y":1},{"c":68,"x":15,"y":0.76},{"c":68,"x":30,"y":0.66},{"c":68,"x":45,"y":0.56},{"c":68,"x":60,"y":0.42},{"c":68,"x":70,"y":0.15},{"c":68,"x":74,"y":0},
{"c":72,"x":0,"y":1},{"c":72,"x":10,"y":0.8},{"c":72,"x":25,"y":0.72},{"c":72,"x":40,"y":0.64},{"c":72,"x":50,"y":0.6},{"c":72,"x":60,"y":0.42},{"c":72,"x":68,"y":0.15},{"c":72,"x":70,"y":0},
{"c":75,"x":0,"y":1},{"c":75,"x":10,"y":0.82},{"c":75,"x":25,"y":0.74},{"c":75,"x":40,"y":0.66},{"c":75,"x":50,"y":0.58},{"c":75,"x":58,"y":0.3},{"c":75,"x":62,"y":0},
{"c":80,"x":0,"y":1},{"c":80,"x":8,"y":0.65},{"c":80,"x":18,"y":0.45},{"c":80,"x":28,"y":0.2},{"c":80,"x":34,"y":0},
{"c":83,"x":0,"y":1},{"c":83,"x":6,"y":0.62},{"c":83,"x":15,"y":0.4},{"c":83,"x":25,"y":0.12},{"c":83,"x":30,"y":0},
{"c":87,"x":0,"y":1},{"c":87,"x":5,"y":0.6},{"c":87,"x":12,"y":0.38},{"c":87,"x":20,"y":0.15},{"c":87,"x":25,"y":0},
{"c":90,"x":0,"y":1},{"c":90,"x":4,"y":0.55},{"c":90,"x":10,"y":0.3},{"c":90,"x":18,"y":0},
{"c":93,"x":0,"y":1},{"c":93,"x":3,"y":0.5},{"c":93,"x":8,"y":0.25},{"c":93,"x":14,"y":0},
{"c":96,"x":0,"y":1},{"c":96,"x":2,"y":0.5},{"c":96,"x":6,"y":0.22},{"c":96,"x":10,"y":0},
{"c":99,"x":0,"y":1},{"c":99,"x":1,"y":0.5},{"c":99,"x":4,"y":0.15},{"c":99,"x":6,"y":0}
],
"c4":[
{"c":51,"x":0,"y":1},{"c":51,"x":20,"y":0.8},{"c":51,"x":40,"y":0.72},{"c":51,"x":60,"y":0.68},{"c":51,"x":80,"y":0.7},{"c":51,"x":100,"y":0.8},{"c":51,"x":120,"y":0.9},{"c":51,"x":128,"y":0.92},{"c":51,"x":140,"y":0.85},{"c":51,"x":150,"y":0.8},{"c":51,"x":160,"y":0.85},{"c":51,"x":167,"y":0.78},{"c":51,"x":173,"y":0.55},{"c":51,"x":179,"y":0.25},{"c":51,"x":183,"y":0},
{"c":52,"x":0,"y":1},{"c":52,"x":20,"y":0.78},{"c":52,"x":40,"y":0.7},{"c":52,"x":60,"y":0.67},{"c":52,"x":80,"y":0.69},{"c":52,"x":100,"y":0.79},{"c":52,"x":120,"y":0.88},{"c":52,"x":128,"y":0.9},{"c":52,"x":140,"y":0.84},{"c":52,"x":150,"y":0.79},{"c":52,"x":160,"y":0.84},{"c":52,"x":166,"y":0.75},{"c":52,"x":172,"y":0.5},{"c":52,"x":178,"y":0.25},{"c":52,"x":181,"y":0},
{"c":54,"x":0,"y":1},{"c":54,"x":20,"y":0.72},{"c":54,"x":40,"y":0.6},{"c":54,"x":60,"y":0.42},{"c":54,"x":70,"y":0.2},{"c":54,"x":80,"y":0.05},{"c":54,"x":90,"y":0},
{"c":57,"x":0,"y":1},{"c":57,"x":20,"y":0.7},{"c":57,"x":40,"y":0.56},{"c":57,"x":55,"y":0.45},{"c":57,"x":65,"y":0.28},{"c":57,"x":75,"y":0.05},{"c":57,"x":78,"y":0},
{"c":61,"x":0,"y":1},{"c":61,"x":15,"y":0.72},{"c":61,"x":30,"y":0.62},{"c":61,"x":45,"y":0.52},{"c":61,"x":60,"y":0.38},{"c":61,"x":70,"y":0.12},{"c":61,"x":76,"y":0},
{"c":65,"x":0,"y":1},{"c":65,"x":15,"y":0.72},{"c":65,"x":30,"y":0.6},{"c":65,"x":45,"y":0.5},{"c":65,"x":60,"y":0.35},{"c":65,"x":70,"y":0.1},{"c":65,"x":74,"y":0},
{"c":69,"x":0,"y":1},{"c":69,"x":15,"y":0.76},{"c":69,"x":30,"y":0.66},{"c":69,"x":45,"y":0.56},{"c":69,"x":58,"y":0.45},{"c":69,"x":65,"y":0.2},{"c":69,"x":70,"y":0},
{"c":73,"x":0,"y":1},{"c":73,"x":10,"y":0.8},{"c":73,"x":25,"y":0.7},{"c":73,"x":40,"y":0.62},{"c":73,"x":55,"y":0.55},{"c":73,"x":62,"y":0.3},{"c":73,"x":66,"y":0},
{"c":76,"x":0,"y":1},{"c":76,"x":10,"y":0.84},{"c":76,"x":25,"y":0.75},{"c":76,"x":40,"y":0.66},{"c":76,"x":50,"y":0.6},{"c":76,"x":58,"y":0.4},{"c":76,"x":62,"y":0},
{"c":81,"x":0,"y":1},{"c":81,"x":8,"y":0.7},{"c":81,"x":18,"y":0.5},{"c":81,"x":25,"y":0.3},{"c":81,"x":30,"y":0},
{"c":85,"x":0,"y":1},{"c":85,"x":6,"y":0.65},{"c":85,"x":15,"y":0.5},{"c":85,"x":22,"y":0.3},{"c":85,"x":27,"y":0},
{"c":88,"x":0,"y":1},{"c":88,"x":5,"y":0.6},{"c":88,"x":12,"y":0.4},{"c":88,"x":20,"y":0.15},{"c":88,"x":24,"y":0},
{"c":91,"x":0,"y":1},{"c":91,"x":4,"y":0.55},{"c":91,"x":10,"y":0.3},{"c":91,"x":17,"y":0},
{"c":94,"x":0,"y":1},{"c":94,"x":3,"y":0.5},{"c":94,"x":8,"y":0.25},{"c":94,"x":13,"y":0},
{"c":97,"x":0,"y":1},{"c":97,"x":2,"y":0.55},{"c":97,"x":6,"y":0.25},{"c":97,"x":10,"y":0},
{"c":100,"x":0,"y":1},{"c":100,"x":1,"y":0.5},{"c":100,"x":4,"y":0.15},{"c":100,"x":6,"y":0}
],
"d1":[
{"c":51,"x":0,"y":1},{"c":51,"x":17,"y":0.78},{"c":51,"x":37,"y":0.7},{"c":51,"x":56,"y":0.58},{"c":51,"x":66,"y":0.5},{"c":51,"x":76,"y":0.37},{"c":51,"x":82,"y":0.18},{"c":51,"x":89,"y":0.03},{"c":51,"x":92,"y":0},
{"c":52,"x":0,"y":1},{"c":52,"x":17,"y":0.76},{"c":52,"x":37,"y":0.68},{"c":52,"x":56,"y":0.56},{"c":52,"x":66,"y":0.46},{"c":52,"x":76,"y":0.32},{"c":52,"x":84,"y":0.12},{"c":52,"x":90,"y":0},
{"c":53,"x":0,"y":1},{"c":53,"x":17,"y":0.74},{"c":53,"x":37,"y":0.66},{"c":53,"x":56,"y":0.54},{"c":53,"x":66,"y":0.44},{"c":53,"x":76,"y":0.28},{"c":53,"x":82,"y":0.1},{"c":53,"x":88,"y":0},
{"c":55,"x":0,"y":1},{"c":55,"x":17,"y":0.72},{"c":55,"x":37,"y":0.64},{"c":55,"x":56,"y":0.52},{"c":55,"x":66,"y":0.4},{"c":55,"x":78,"y":0.2},{"c":55,"x":86,"y":0},
{"c":58,"x":0,"y":1},{"c":58,"x":15,"y":0.7},{"c":58,"x":30,"y":0.56},{"c":58,"x":45,"y":0.4},{"c":58,"x":55,"y":0.2},{"c":58,"x":62,"y":0},
{"c":61,"x":0,"y":1},{"c":61,"x":15,"y":0.65},{"c":61,"x":30,"y":0.5},{"c":61,"x":40,"y":0.38},{"c":61,"x":50,"y":0.2},{"c":61,"x":58,"y":0},
{"c":63,"x":0,"y":1},{"c":63,"x":10,"y":0.6},{"c":63,"x":18,"y":0.3},{"c":63,"x":25,"y":0.15},{"c":63,"x":30,"y":0.2},{"c":63,"x":35,"y":0.12},{"c":63,"x":40,"y":0},
{"c":66,"x":0,"y":1},{"c":66,"x":12,"y":0.7},{"c":66,"x":25,"y":0.55},{"c":66,"x":38,"y":0.4},{"c":66,"x":48,"y":0.15},{"c":66,"x":54,"y":0},
{"c":69,"x":0,"y":1},{"c":69,"x":12,"y":0.75},{"c":69,"x":25,"y":0.6},{"c":69,"x":35,"y":0.52},{"c":69,"x":45,"y":0.25},{"c":69,"x":50,"y":0},
{"c":73,"x":0,"y":1},{"c":73,"x":10,"y":0.72},{"c":73,"x":20,"y":0.58},{"c":73,"x":30,"y":0.45},{"c":73,"x":40,"y":0.15},{"c":73,"x":44,"y":0},
{"c":77,"x":0,"y":1},{"c":77,"x":8,"y":0.65},{"c":77,"x":18,"y":0.45},{"c":77,"x":28,"y":0.2},{"c":77,"x":35,"y":0},
{"c":80,"x":0,"y":1},{"c":80,"x":6,"y":0.6},{"c":80,"x":15,"y":0.35},{"c":80,"x":22,"y":0.12},{"c":80,"x":28,"y":0},
{"c":84,"x":0,"y":1},{"c":84,"x":5,"y":0.55},{"c":84,"x":12,"y":0.3},{"c":84,"x":18,"y":0},
{"c":88,"x":0,"y":1},{"c":88,"x":4,"y":0.5},{"c":88,"x":9,"y":0.25},{"c":88,"x":14,"y":0},
{"c":92,"x":0,"y":1},{"c":92,"x":3,"y":0.5},{"c":92,"x":7,"y":0.2},{"c":92,"x":11,"y":0},
{"c":96,"x":0,"y":1},{"c":96,"x":2,"y":0.45},{"c":96,"x":5,"y":0.15},{"c":96,"x":8,"y":0},
{"c":99,"x":0,"y":1},{"c":99,"x":1,"y":0.5},{"c":99,"x":3,"y":0.15},{"c":99,"x":5,"y":0}
],
"d2":[
{"c":51,"x":0,"y":1},{"c":51,"x":15,"y":0.82},{"c":51,"x":30,"y":0.76},{"c":51,"x":45,"y":0.72},{"c":51,"x":55,"y":0.68},{"c":51,"x":62,"y":0.62},{"c":51,"x":70,"y":0.45},{"c":51,"x":78,"y":0.25},{"c":51,"x":85,"y":0.08},{"c":51,"x":90,"y":0},
{"c":52,"x":0,"y":1},{"c":52,"x":15,"y":0.8},{"c":52,"x":30,"y":0.74},{"c":52,"x":45,"y":0.7},{"c":52,"x":55,"y":0.66},{"c":52,"x":62,"y":0.6},{"c":52,"x":70,"y":0.42},{"c":52,"x":78,"y":0.2},{"c":52,"x":86,"y":0.04},{"c":52,"x":89,"y":0},
{"c":53,"x":0,"y":1},{"c":53,"x":15,"y":0.79},{"c":53,"x":30,"y":0.73},{"c":53,"x":45,"y":0.68},{"c":53,"x":55,"y":0.64},{"c":53,"x":62,"y":0.57},{"c":53,"x":70,"y":0.38},{"c":53,"x":80,"y":0.12},{"c":53,"x":88,"y":0},
{"c":55,"x":0,"y":1},{"c":55,"x":20,"y":0.72},{"c":55,"x":40,"y":0.58},{"c":55,"x":55,"y":0.42},{"c":55,"x":65,"y":0.2},{"c":55,"x":75,"y":0},
{"c":58,"x":0,"y":1},{"c":58,"x":15,"y":0.7},{"c":58,"x":30,"y":0.55},{"c":58,"x":45,"y":0.4},{"c":58,"x":55,"y":0.22},{"c":58,"x":62,"y":0},
{"c":62,"x":0,"y":1},{"c":62,"x":15,"y":0.68},{"c":62,"x":30,"y":0.5},{"c":62,"x":45,"y":0.3},{"c":62,"x":52,"y":0.1},{"c":62,"x":56,"y":0},
{"c":66,"x":0,"y":1},{"c":66,"x":12,"y":0.7},{"c":66,"x":25,"y":0.55},{"c":66,"x":40,"y":0.35},{"c":66,"x":48,"y":0.1},{"c":66,"x":52,"y":0},
{"c":70,"x":0,"y":1},{"c":70,"x":12,"y":0.74},{"c":70,"x":25,"y":0.66},{"c":70,"x":35,"y":0.6},{"c":70,"x":40,"y":0.5},{"c":70,"x":45,"y":0.2},{"c":70,"x":48,"y":0},
{"c":74,"x":0,"y":1},{"c":74,"x":10,"y":0.8},{"c":74,"x":20,"y":0.75},{"c":74,"x":30,"y":0.7},{"c":74,"x":35,"y":0.72},{"c":74,"x":38,"y":0.5},{"c":74,"x":42,"y":0.3},{"c":74,"x":46,"y":0},
{"c":78,"x":0,"y":1},{"c":78,"x":10,"y":0.72},{"c":78,"x":20,"y":0.55},{"c":78,"x":28,"y":0.2},{"c":78,"x":30,"y":0.1},{"c":78,"x":33,"y":0},
{"c":82,"x":0,"y":1},{"c":82,"x":8,"y":0.65},{"c":82,"x":18,"y":0.4},{"c":82,"x":25,"y":0.2},{"c":82,"x":30,"y":0},
{"c":86,"x":0,"y":1},{"c":86,"x":5,"y":0.55},{"c":86,"x":12,"y":0.3},{"c":86,"x":18,"y":0.08},{"c":86,"x":20,"y":0},
{"c":90,"x":0,"y":1},{"c":90,"x":4,"y":0.5},{"c":90,"x":10,"y":0.25},{"c":90,"x":15,"y":0},
{"c":94,"x":0,"y":1},{"c":94,"x":3,"y":0.45},{"c":94,"x":7,"y":0.2},{"c":94,"x":11,"y":0},
{"c":97,"x":0,"y":1},{"c":97,"x":2,"y":0.5},{"c":97,"x":5,"y":0.2},{"c":97,"x":8,"y":0},
{"c":100,"x":0,"y":1},{"c":100,"x":1,"y":0.5},{"c":100,"x":3,"y":0.15},{"c":100,"x":5,"y":0}
],
"d3":[
{"c":51,"x":0,"y":1},{"c":51,"x":15,"y":0.82},{"c":51,"x":30,"y":0.75},{"c":51,"x":45,"y":0.68},{"c":51,"x":55,"y":0.62},{"c":51,"x":65,"y":0.55},{"c":51,"x":72,"y":0.45},{"c":51,"x":78,"y":0.3},{"c":51,"x":85,"y":0.1},{"c":51,"x":91,"y":0},
{"c":52,"x":0,"y":1},{"c":52,"x":15,"y":0.8},{"c":52,"x":30,"y":0.73},{"c":52,"x":45,"y":0.66},{"c":52,"x":55,"y":0.6},{"c":52,"x":65,"y":0.52},{"c":52,"x":72,"y":0.42},{"c":52,"x":80,"y":0.22},{"c":52,"x":88,"y":0.02},{"c":52,"x":90,"y":0},
{"c":53,"x":0,"y":1},{"c":53,"x":15,"y":0.79},{"c":53,"x":30,"y":0.72},{"c":53,"x":45,"y":0.65},{"c":53,"x":55,"y":0.58},{"c":53,"x":65,"y":0.5},{"c":53,"x":72,"y":0.4},{"c":53,"x":80,"y":0.18},{"c":53,"x":88,"y":0},
{"c":55,"x":0,"y":1},{"c":55,"x":20,"y":0.72},{"c":55,"x":40,"y":0.6},{"c":55,"x":55,"y":0.42},{"c":55,"x":65,"y":0.22},{"c":55,"x":78,"y":0},
{"c":58,"x":0,"y":1},{"c":58,"x":15,"y":0.7},{"c":58,"x":30,"y":0.56},{"c":58,"x":45,"y":0.42},{"c":58,"x":55,"y":0.25},{"c":58,"x":65,"y":0},
{"c":61,"x":0,"y":1},{"c":61,"x":15,"y":0.7},{"c":61,"x":30,"y":0.55},{"c":61,"x":45,"y":0.35},{"c":61,"x":55,"y":0.12},{"c":61,"x":60,"y":0},
{"c":65,"x":0,"y":1},{"c":65,"x":12,"y":0.72},{"c":65,"x":25,"y":0.58},{"c":65,"x":40,"y":0.42},{"c":65,"x":50,"y":0.15},{"c":65,"x":55,"y":0},
{"c":69,"x":0,"y":1},{"c":69,"x":12,"y":0.76},{"c":69,"x":25,"y":0.68},{"c":69,"x":35,"y":0.6},{"c":69,"x":45,"y":0.4},{"c":69,"x":52,"y":0},
{"c":73,"x":0,"y":1},{"c":73,"x":10,"y":0.8},{"c":73,"x":20,"y":0.74},{"c":73,"x":30,"y":0.72},{"c":73,"x":38,"y":0.7},{"c":73,"x":42,"y":0.45},{"c":73,"x":46,"y":0},
{"c":77,"x":0,"y":1},{"c":77,"x":10,"y":0.78},{"c":77,"x":25,"y":0.68},{"c":77,"x":35,"y":0.6},{"c":77,"x":40,"y":0.3},{"c":77,"x":43,"y":0},
{"c":81,"x":0,"y":1},{"c":81,"x":8,"y":0.68},{"c":81,"x":18,"y":0.45},{"c":81,"x":25,"y":0.2},{"c":81,"x":30,"y":0},
{"c":85,"x":0,"y":1},{"c":85,"x":6,"y":0.6},{"c":85,"x":14,"y":0.35},{"c":85,"x":22,"y":0},
{"c":89,"x":0,"y":1},{"c":89,"x":4,"y":0.55},{"c":89,"x":10,"y":0.25},{"c":89,"x":15,"y":0},
{"c":93,"x":0,"y":1},{"c":93,"x":3,"y":0.5},{"c":93,"x":8,"y":0.2},{"c":93,"x":12,"y":0},
{"c":97,"x":0,"y":1},{"c":97,"x":2,"y":0.5},{"c":97,"x":5,"y":0.2},{"c":97,"x":8,"y":0},
{"c":100,"x":0,"y":1},{"c":100,"x":1,"y":0.5},{"c":100,"x":3,"y":0.1},{"c":100,"x":4,"y":0}
],
"d4":[
{"c":51,"x":0,"y":1},{"c":51,"x":15,"y":0.84},{"c":51,"x":30,"y":0.76},{"c":51,"x":45,"y":0.7},{"c":51,"x":55,"y":0.64},{"c":51,"x":65,"y":0.56},{"c":51,"x":72,"y":0.48},{"c":51,"x":80,"y":0.3},{"c":51,"x":86,"y":0.1},{"c":51,"x":91,"y":0},
{"c":52,"x":0,"y":1},{"c":52,"x":15,"y":0.82},{"c":52,"x":30,"y":0.75},{"c":52,"x":45,"y":0.68},{"c":52,"x":55,"y":0.62},{"c":52,"x":65,"y":0.54},{"c":52,"x":72,"y":0.45},{"c":52,"x":80,"y":0.26},{"c":52,"x":88,"y":0.04},{"c":52,"x":90,"y":0},
{"c":53,"x":0,"y":1},{"c":53,"x":15,"y":0.8},{"c":53,"x":30,"y":0.73},{"c":53,"x":45,"y":0.66},{"c":53,"x":55,"y":0.6},{"c":53,"x":65,"y":0.52},{"c":53,"x":72,"y":0.42},{"c":53,"x":82,"y":0.18},{"c":53,"x":89,"y":0},
{"c":55,"x":0,"y":1},{"c":55,"x":20,"y":0.74},{"c":55,"x":40,"y":0.62},{"c":55,"x":55,"y":0.45},{"c":55,"x":65,"y":0.25},{"c":55,"x":76,"y":0},
{"c":59,"x":0,"y":1},{"c":59,"x":15,"y":0.72},{"c":59,"x":30,"y":0.58},{"c":59,"x":45,"y":0.42},{"c":59,"x":55,"y":0.25},{"c":59,"x":64,"y":0},
{"c":63,"x":0,"y":1},{"c":63,"x":15,"y":0.7},{"c":63,"x":30,"y":0.55},{"c":63,"x":45,"y":0.35},{"c":63,"x":55,"y":0.1},{"c":63,"x":58,"y":0},
{"c":67,"x":0,"y":1},{"c":67,"x":12,"y":0.74},{"c":67,"x":25,"y":0.62},{"c":67,"x":40,"y":0.45},{"c":67,"x":48,"y":0.2},{"c":67,"x":52,"y":0},
{"c":71,"x":0,"y":1},{"c":71,"x":12,"y":0.8},{"c":71,"x":25,"y":0.72},{"c":71,"x":35,"y":0.68},{"c":71,"x":42,"y":0.45},{"c":71,"x":47,"y":0},
{"c":75,"x":0,"y":1},{"c":75,"x":8,"y":0.85},{"c":75,"x":15,"y":0.86},{"c":75,"x":25,"y":0.8},{"c":75,"x":32,"y":0.84},{"c":75,"x":36,"y":0.6},{"c":75,"x":40,"y":0.3},{"c":75,"x":42,"y":0},
{"c":79,"x":0,"y":1},{"c":79,"x":8,"y":0.82},{"c":79,"x":15,"y":0.8},{"c":79,"x":22,"y":0.75},{"c":79,"x":28,"y":0.5},{"c":79,"x":30,"y":0.2},{"c":79,"x":32,"y":0},
{"c":83,"x":0,"y":1},{"c":83,"x":6,"y":0.8},{"c":83,"x":12,"y":0.75},{"c":83,"x":18,"y":0.55},{"c":83,"x":22,"y":0.2},{"c":83,"x":24,"y":0},
{"c":86,"x":0,"y":1},{"c":86,"x":5,"y":0.72},{"c":86,"x":10,"y":0.6},{"c":86,"x":14,"y":0.3},{"c":86,"x":17,"y":0},
{"c":90,"x":0,"y":1},{"c":90,"x":4,"y":0.55},{"c":90,"x":9,"y":0.25},{"c":90,"x":13,"y":0},
{"c":94,"x":0,"y":1},{"c":94,"x":3,"y":0.5},{"c":94,"x":7,"y":0.2},{"c":94,"x":11,"y":0},
{"c":97,"x":0,"y":1},{"c":97,"x":2,"y":0.5},{"c":97,"x":5,"y":0.2},{"c":97,"x":8,"y":0},
{"c":100,"x":0,"y":1},{"c":100,"x":1,"y":0.45},{"c":100,"x":3,"y":0.1},{"c":100,"x":4,"y":0}
]
},
"vconcat":[
{"hconcat":[
{"title":{"text":"(a)","anchor":"start","frame":"bounds","fontSize":22,"fontWeight":"bold","offset":-30,"dx":-41},
 "vconcat":[{"title":{"text":"Rising N−S","anchor":"middle","frame":"bounds","fontSize":28,"fontWeight":"normal","offset":7,"dx":26},"bounds":"flush","spacing":10,"vconcat":[
{"height":80,"width":485,"data":{"name":"a1"},"layer":[{"mark":"line","encoding":{"x":{"field":"x","type":"quantitative","title":null,"scale":{"domain":[0,190],"nice":false},"axis":{"labels":false}},"y":{"field":"y","type":"quantitative","title":"MP","scale":{"domain":[0,1],"nice":false},"axis":{"values":[0.2,0.6,1],"format":".1f"}},"color":{"field":"c","type":"quantitative","scale":{"domain":[0,6.25,12.5,18.75,25,31.25,37.5,43.75,50,56.25,62.5,68.75,75,81.25,87.5,93.75,100],"range":["#7f0000","#ff0000","#ff8000","#ffff00","#80ff80","#00ffff","#0080ff","#0000ff","#00007f","#0000ff","#0080ff","#00ffff","#80ff80","#ffff00","#ff8000","#ff0000","#7f0000"],"interpolate":"rgb"},"legend":{"values":[0.3,50,95],"labelExpr":"datum.value<1?'start':datum.value==50?'peak':'end'","title":null,"orient":"none","legendX":847,"legendY":40,"direction":"horizontal","labelOffset":-38}},"detail":{"field":"c","type":"nominal"}}},{"mark":{"type":"point","opacity":0},"encoding":{"x":{"field":"x","type":"quantitative","title":null,"scale":{"domain":[0,190],"nice":false},"axis":{"orient":"top","labels":false}},"y":{"field":"y","type":"quantitative","title":null,"scale":{"domain":[0,1],"nice":false},"axis":{"orient":"right","labels":false,"values":[0.2,0.6,1]}}}}],"resolve":{"axis":{"x":"independent","y":"independent"}}},
{"height":80,"width":485,"data":{"name":"a2"},"layer":[{"mark":"line","encoding":{"x":{"field":"x","type":"quantitative","title":null,"scale":{"domain":[0,190],"nice":false},"axis":{"labels":false}},"y":{"field":"y","type":"quantitative","title":"6d","scale":{"domain":[0,1],"nice":false},"axis":{"values":[0.2,0.6,1],"format":".1f"}},"color":{"field":"c","type":"quantitative","scale":{"domain":[0,6.25,12.5,18.75,25,31.25,37.5,43.75,50,56.25,62.5,68.75,75,81.25,87.5,93.75,100],"range":["#7f0000","#ff0000","#ff8000","#ffff00","#80ff80","#00ffff","#0080ff","#0000ff","#00007f","#0000ff","#0080ff","#00ffff","#80ff80","#ffff00","#ff8000","#ff0000","#7f0000"],"interpolate":"rgb"}},"detail":{"field":"c","type":"nominal"}}},{"mark":{"type":"point","opacity":0},"encoding":{"x":{"field":"x","type":"quantitative","title":null,"scale":{"domain":[0,190],"nice":false},"axis":{"orient":"top","labels":false}},"y":{"field":"y","type":"quantitative","title":null,"scale":{"domain":[0,1],"nice":false},"axis":{"orient":"right","labels":false,"values":[0.2,0.6,1]}}}}],"resolve":{"axis":{"x":"independent","y":"independent"}}},
{"height":80,"width":485,"data":{"name":"a3"},"layer":[{"mark":"line","encoding":{"x":{"field":"x","type":"quantitative","title":null,"scale":{"domain":[0,190],"nice":false},"axis":{"labels":false}},"y":{"field":"y","type":"quantitative","title":"13d","scale":{"domain":[0,1],"nice":false},"axis":{"values":[0.2,0.6,1],"format":".1f"}},"color":{"field":"c","type":"quantitative","scale":{"domain":[0,6.25,12.5,18.75,25,31.25,37.5,43.75,50,56.25,62.5,68.75,75,81.25,87.5,93.75,100],"range":["#7f0000","#ff0000","#ff8000","#ffff00","#80ff80","#00ffff","#0080ff","#0000ff","#00007f","#0000ff","#0080ff","#00ffff","#80ff80","#ffff00","#ff8000","#ff0000","#7f0000"],"interpolate":"rgb"}},"detail":{"field":"c","type":"nominal"}}},{"mark":{"type":"point","opacity":0},"encoding":{"x":{"field":"x","type":"quantitative","title":null,"scale":{"domain":[0,190],"nice":false},"axis":{"orient":"top","labels":false}},"y":{"field":"y","type":"quantitative","title":null,"scale":{"domain":[0,1],"nice":false},"axis":{"orient":"right","labels":false,"values":[0.2,0.6,1]}}}}],"resolve":{"axis":{"x":"independent","y":"independent"}}},
{"height":80,"width":485,"data":{"name":"a4"},"layer":[{"mark":"line","encoding":{"x":{"field":"x","type":"quantitative","title":null,"scale":{"domain":[0,190],"nice":false},"axis":{"labels":true}},"y":{"field":"y","type":"quantitative","title":"27d","scale":{"domain":[0,1],"nice":false},"axis":{"values":[0.2,0.6,1],"format":".1f"}},"color":{"field":"c","type":"quantitative","scale":{"domain":[0,6.25,12.5,18.75,25,31.25,37.5,43.75,50,56.25,62.5,68.75,75,81.25,87.5,93.75,100],"range":["#7f0000","#ff0000","#ff8000","#ffff00","#80ff80","#00ffff","#0080ff","#0000ff","#00007f","#0000ff","#0080ff","#00ffff","#80ff80","#ffff00","#ff8000","#ff0000","#7f0000"],"interpolate":"rgb"}},"detail":{"field":"c","type":"nominal"}}},{"mark":{"type":"point","opacity":0},"encoding":{"x":{"field":"x","type":"quantitative","title":null,"scale":{"domain":[0,190],"nice":false},"axis":{"orient":"top","labels":false}},"y":{"field":"y","type":"quantitative","title":null,"scale":{"domain":[0,1],"nice":false},"axis":{"orient":"right","labels":false,"values":[0.2,0.6,1]}}}}],"resolve":{"axis":{"x":"independent","y":"independent"}}}
]}]},
{"title":{"text":"(b)","anchor":"start","frame":"bounds","fontSize":22,"fontWeight":"bold","offset":-30,"dx":-34},
 "vconcat":[{"title":{"text":"Rising W−E","anchor":"middle","frame":"bounds","fontSize":28,"fontWeight":"normal","offset":7,"dx":26},"bounds":"flush","spacing":10,"vconcat":[
{"height":80,"width":485,"data":{"name":"b1"},"layer":[{"mark":"line","encoding":{"x":{"field":"x","type":"quantitative","title":null,"scale":{"domain":[0,190],"nice":false},"axis":{"labels":false}},"y":{"field":"y","type":"quantitative","title":"MP","scale":{"domain":[0,1],"nice":false},"axis":{"values":[0.2,0.6,1],"format":".1f"}},"color":{"field":"c","type":"quantitative","scale":{"domain":[0,6.25,12.5,18.75,25,31.25,37.5,43.75,50,56.25,62.5,68.75,75,81.25,87.5,93.75,100],"range":["#7f0000","#ff0000","#ff8000","#ffff00","#80ff80","#00ffff","#0080ff","#0000ff","#00007f","#0000ff","#0080ff","#00ffff","#80ff80","#ffff00","#ff8000","#ff0000","#7f0000"],"interpolate":"rgb"}},"detail":{"field":"c","type":"nominal"}}},{"mark":{"type":"point","opacity":0},"encoding":{"x":{"field":"x","type":"quantitative","title":null,"scale":{"domain":[0,190],"nice":false},"axis":{"orient":"top","labels":false}},"y":{"field":"y","type":"quantitative","title":null,"scale":{"domain":[0,1],"nice":false},"axis":{"orient":"right","labels":false,"values":[0.2,0.6,1]}}}}],"resolve":{"axis":{"x":"independent","y":"independent"}}},
{"height":80,"width":485,"data":{"name":"b2"},"layer":[{"mark":"line","encoding":{"x":{"field":"x","type":"quantitative","title":null,"scale":{"domain":[0,190],"nice":false},"axis":{"labels":false}},"y":{"field":"y","type":"quantitative","title":"6d","scale":{"domain":[0,1],"nice":false},"axis":{"values":[0.2,0.6,1],"format":".1f"}},"color":{"field":"c","type":"quantitative","scale":{"domain":[0,6.25,12.5,18.75,25,31.25,37.5,43.75,50,56.25,62.5,68.75,75,81.25,87.5,93.75,100],"range":["#7f0000","#ff0000","#ff8000","#ffff00","#80ff80","#00ffff","#0080ff","#0000ff","#00007f","#0000ff","#0080ff","#00ffff","#80ff80","#ffff00","#ff8000","#ff0000","#7f0000"],"interpolate":"rgb"}},"detail":{"field":"c","type":"nominal"}}},{"mark":{"type":"point","opacity":0},"encoding":{"x":{"field":"x","type":"quantitative","title":null,"scale":{"domain":[0,190],"nice":false},"axis":{"orient":"top","labels":false}},"y":{"field":"y","type":"quantitative","title":null,"scale":{"domain":[0,1],"nice":false},"axis":{"orient":"right","labels":false,"values":[0.2,0.6,1]}}}}],"resolve":{"axis":{"x":"independent","y":"independent"}}},
{"height":80,"width":485,"data":{"name":"b3"},"layer":[{"mark":"line","encoding":{"x":{"field":"x","type":"quantitative","title":null,"scale":{"domain":[0,190],"nice":false},"axis":{"labels":false}},"y":{"field":"y","type":"quantitative","title":"13d","scale":{"domain":[0,1],"nice":false},"axis":{"values":[0.2,0.6,1],"format":".1f"}},"color":{"field":"c","type":"quantitative","scale":{"domain":[0,6.25,12.5,18.75,25,31.25,37.5,43.75,50,56.25,62.5,68.75,75,81.25,87.5,93.75,100],"range":["#7f0000","#ff0000","#ff8000","#ffff00","#80ff80","#00ffff","#0080ff","#0000ff","#00007f","#0000ff","#0080ff","#00ffff","#80ff80","#ffff00","#ff8000","#ff0000","#7f0000"],"interpolate":"rgb"}},"detail":{"field":"c","type":"nominal"}}},{"mark":{"type":"point","opacity":0},"encoding":{"x":{"field":"x","type":"quantitative","title":null,"scale":{"domain":[0,190],"nice":false},"axis":{"orient":"top","labels":false}},"y":{"field":"y","type":"quantitative","title":null,"scale":{"domain":[0,1],"nice":false},"axis":{"orient":"right","labels":false,"values":[0.2,0.6,1]}}}}],"resolve":{"axis":{"x":"independent","y":"independent"}}},
{"height":80,"width":485,"data":{"name":"b4"},"layer":[{"mark":"line","encoding":{"x":{"field":"x","type":"quantitative","title":null,"scale":{"domain":[0,190],"nice":false},"axis":{"labels":true}},"y":{"field":"y","type":"quantitative","title":"27d","scale":{"domain":[0,1],"nice":false},"axis":{"values":[0.2,0.6,1],"format":".1f"}},"color":{"field":"c","type":"quantitative","scale":{"domain":[0,6.25,12.5,18.75,25,31.25,37.5,43.75,50,56.25,62.5,68.75,75,81.25,87.5,93.75,100],"range":["#7f0000","#ff0000","#ff8000","#ffff00","#80ff80","#00ffff","#0080ff","#0000ff","#00007f","#0000ff","#0080ff","#00ffff","#80ff80","#ffff00","#ff8000","#ff0000","#7f0000"],"interpolate":"rgb"}},"detail":{"field":"c","type":"nominal"}}},{"mark":{"type":"point","opacity":0},"encoding":{"x":{"field":"x","type":"quantitative","title":null,"scale":{"domain":[0,190],"nice":false},"axis":{"orient":"top","labels":false}},"y":{"field":"y","type":"quantitative","title":null,"scale":{"domain":[0,1],"nice":false},"axis":{"orient":"right","labels":false,"values":[0.2,0.6,1]}}}}],"resolve":{"axis":{"x":"independent","y":"independent"}}}
]}]}
],"spacing":5},
{"hconcat":[
{"title":{"text":"(c)","anchor":"start","frame":"bounds","fontSize":22,"fontWeight":"bold","offset":-30,"dx":-41},
 "vconcat":[{"title":{"text":"Recession N−S","anchor":"middle","frame":"bounds","fontSize":28,"fontWeight":"normal","offset":3,"dx":26},"bounds":"flush","spacing":10,"vconcat":[
{"height":80,"width":485,"data":{"name":"c1"},"layer":[{"mark":"line","encoding":{"x":{"field":"x","type":"quantitative","title":null,"scale":{"domain":[0,190],"nice":false},"axis":{"labels":false}},"y":{"field":"y","type":"quantitative","title":"MP","scale":{"domain":[0,1],"nice":false},"axis":{"values":[0.2,0.6,1],"format":".1f"}},"color":{"field":"c","type":"quantitative","scale":{"domain":[0,6.25,12.5,18.75,25,31.25,37.5,43.75,50,56.25,62.5,68.75,75,81.25,87.5,93.75,100],"range":["#7f0000","#ff0000","#ff8000","#ffff00","#80ff80","#00ffff","#0080ff","#0000ff","#00007f","#0000ff","#0080ff","#00ffff","#80ff80","#ffff00","#ff8000","#ff0000","#7f0000"],"interpolate":"rgb"}},"detail":{"field":"c","type":"nominal"}}},{"mark":{"type":"point","opacity":0},"encoding":{"x":{"field":"x","type":"quantitative","title":null,"scale":{"domain":[0,190],"nice":false},"axis":{"orient":"top","labels":false}},"y":{"field":"y","type":"quantitative","title":null,"scale":{"domain":[0,1],"nice":false},"axis":{"orient":"right","labels":false,"values":[0.2,0.6,1]}}}}],"resolve":{"axis":{"x":"independent","y":"independent"}}},
{"height":80,"width":485,"data":{"name":"c2"},"layer":[{"mark":"line","encoding":{"x":{"field":"x","type":"quantitative","title":null,"scale":{"domain":[0,190],"nice":false},"axis":{"labels":false}},"y":{"field":"y","type":"quantitative","title":"6d","scale":{"domain":[0,1],"nice":false},"axis":{"values":[0.2,0.6,1],"format":".1f"}},"color":{"field":"c","type":"quantitative","scale":{"domain":[0,6.25,12.5,18.75,25,31.25,37.5,43.75,50,56.25,62.5,68.75,75,81.25,87.5,93.75,100],"range":["#7f0000","#ff0000","#ff8000","#ffff00","#80ff80","#00ffff","#0080ff","#0000ff","#00007f","#0000ff","#0080ff","#00ffff","#80ff80","#ffff00","#ff8000","#ff0000","#7f0000"],"interpolate":"rgb"}},"detail":{"field":"c","type":"nominal"}}},{"mark":{"type":"point","opacity":0},"encoding":{"x":{"field":"x","type":"quantitative","title":null,"scale":{"domain":[0,190],"nice":false},"axis":{"orient":"top","labels":false}},"y":{"field":"y","type":"quantitative","title":null,"scale":{"domain":[0,1],"nice":false},"axis":{"orient":"right","labels":false,"values":[0.2,0.6,1]}}}}],"resolve":{"axis":{"x":"independent","y":"independent"}}},
{"height":80,"width":485,"data":{"name":"c3"},"layer":[{"mark":"line","encoding":{"x":{"field":"x","type":"quantitative","title":null,"scale":{"domain":[0,190],"nice":false},"axis":{"labels":false}},"y":{"field":"y","type":"quantitative","title":"13d","scale":{"domain":[0,1],"nice":false},"axis":{"values":[0.2,0.6,1],"format":".1f"}},"color":{"field":"c","type":"quantitative","scale":{"domain":[0,6.25,12.5,18.75,25,31.25,37.5,43.75,50,56.25,62.5,68.75,75,81.25,87.5,93.75,100],"range":["#7f0000","#ff0000","#ff8000","#ffff00","#80ff80","#00ffff","#0080ff","#0000ff","#00007f","#0000ff","#0080ff","#00ffff","#80ff80","#ffff00","#ff8000","#ff0000","#7f0000"],"interpolate":"rgb"}},"detail":{"field":"c","type":"nominal"}}},{"mark":{"type":"point","opacity":0},"encoding":{"x":{"field":"x","type":"quantitative","title":null,"scale":{"domain":[0,190],"nice":false},"axis":{"orient":"top","labels":false}},"y":{"field":"y","type":"quantitative","title":null,"scale":{"domain":[0,1],"nice":false},"axis":{"orient":"right","labels":false,"values":[0.2,0.6,1]}}}}],"resolve":{"axis":{"x":"independent","y":"independent"}}},
{"height":80,"width":485,"data":{"name":"c4"},"layer":[{"mark":"line","encoding":{"x":{"field":"x","type":"quantitative","title":"Distance (km)","scale":{"domain":[0,190],"nice":false},"axis":{"labels":true}},"y":{"field":"y","type":"quantitative","title":"27d","scale":{"domain":[0,1],"nice":false},"axis":{"values":[0.2,0.6,1],"format":".1f"}},"color":{"field":"c","type":"quantitative","scale":{"domain":[0,6.25,12.5,18.75,25,31.25,37.5,43.75,50,56.25,62.5,68.75,75,81.25,87.5,93.75,100],"range":["#7f0000","#ff0000","#ff8000","#ffff00","#80ff80","#00ffff","#0080ff","#0000ff","#00007f","#0000ff","#0080ff","#00ffff","#80ff80","#ffff00","#ff8000","#ff0000","#7f0000"],"interpolate":"rgb"}},"detail":{"field":"c","type":"nominal"}}},{"mark":{"type":"point","opacity":0},"encoding":{"x":{"field":"x","type":"quantitative","title":null,"scale":{"domain":[0,190],"nice":false},"axis":{"orient":"top","labels":false}},"y":{"field":"y","type":"quantitative","title":null,"scale":{"domain":[0,1],"nice":false},"axis":{"orient":"right","labels":false,"values":[0.2,0.6,1]}}}}],"resolve":{"axis":{"x":"independent","y":"independent"}}}
]}]},
{"title":{"text":"(d)","anchor":"start","frame":"bounds","fontSize":22,"fontWeight":"bold","offset":-30,"dx":-34},
 "vconcat":[{"title":{"text":"Recession W−E","anchor":"middle","frame":"bounds","fontSize":28,"fontWeight":"normal","offset":3,"dx":26},"bounds":"flush","spacing":10,"vconcat":[
{"height":80,"width":485,"data":{"name":"d1"},"layer":[{"mark":"line","encoding":{"x":{"field":"x","type":"quantitative","title":null,"scale":{"domain":[0,190],"nice":false},"axis":{"labels":false}},"y":{"field":"y","type":"quantitative","title":"MP","scale":{"domain":[0,1],"nice":false},"axis":{"values":[0.2,0.6,1],"format":".1f"}},"color":{"field":"c","type":"quantitative","scale":{"domain":[0,6.25,12.5,18.75,25,31.25,37.5,43.75,50,56.25,62.5,68.75,75,81.25,87.5,93.75,100],"range":["#7f0000","#ff0000","#ff8000","#ffff00","#80ff80","#00ffff","#0080ff","#0000ff","#00007f","#0000ff","#0080ff","#00ffff","#80ff80","#ffff00","#ff8000","#ff0000","#7f0000"],"interpolate":"rgb"}},"detail":{"field":"c","type":"nominal"}}},{"mark":{"type":"point","opacity":0},"encoding":{"x":{"field":"x","type":"quantitative","title":null,"scale":{"domain":[0,190],"nice":false},"axis":{"orient":"top","labels":false}},"y":{"field":"y","type":"quantitative","title":null,"scale":{"domain":[0,1],"nice":false},"axis":{"orient":"right","labels":false,"values":[0.2,0.6,1]}}}}],"resolve":{"axis":{"x":"independent","y":"independent"}}},
{"height":80,"width":485,"data":{"name":"d2"},"layer":[{"mark":"line","encoding":{"x":{"field":"x","type":"quantitative","title":null,"scale":{"domain":[0,190],"nice":false},"axis":{"labels":false}},"y":{"field":"y","type":"quantitative","title":"6d","scale":{"domain":[0,1],"nice":false},"axis":{"values":[0.2,0.6,1],"format":".1f"}},"color":{"field":"c","type":"quantitative","scale":{"domain":[0,6.25,12.5,18.75,25,31.25,37.5,43.75,50,56.25,62.5,68.75,75,81.25,87.5,93.75,100],"range":["#7f0000","#ff0000","#ff8000","#ffff00","#80ff80","#00ffff","#0080ff","#0000ff","#00007f","#0000ff","#0080ff","#00ffff","#80ff80","#ffff00","#ff8000","#ff0000","#7f0000"],"interpolate":"rgb"}},"detail":{"field":"c","type":"nominal"}}},{"mark":{"type":"point","opacity":0},"encoding":{"x":{"field":"x","type":"quantitative","title":null,"scale":{"domain":[0,190],"nice":false},"axis":{"orient":"top","labels":false}},"y":{"field":"y","type":"quantitative","title":null,"scale":{"domain":[0,1],"nice":false},"axis":{"orient":"right","labels":false,"values":[0.2,0.6,1]}}}}],"resolve":{"axis":{"x":"independent","y":"independent"}}},
{"height":80,"width":485,"data":{"name":"d3"},"layer":[{"mark":"line","encoding":{"x":{"field":"x","type":"quantitative","title":null,"scale":{"domain":[0,190],"nice":false},"axis":{"labels":false}},"y":{"field":"y","type":"quantitative","title":"13d","scale":{"domain":[0,1],"nice":false},"axis":{"values":[0.2,0.6,1],"format":".1f"}},"color":{"field":"c","type":"quantitative","scale":{"domain":[0,6.25,12.5,18.75,25,31.25,37.5,43.75,50,56.25,62.5,68.75,75,81.25,87.5,93.75,100],"range":["#7f0000","#ff0000","#ff8000","#ffff00","#80ff80","#00ffff","#0080ff","#0000ff","#00007f","#0000ff","#0080ff","#00ffff","#80ff80","#ffff00","#ff8000","#ff0000","#7f0000"],"interpolate":"rgb"}},"detail":{"field":"c","type":"nominal"}}},{"mark":{"type":"point","opacity":0},"encoding":{"x":{"field":"x","type":"quantitative","title":null,"scale":{"domain":[0,190],"nice":false},"axis":{"orient":"top","labels":false}},"y":{"field":"y","type":"quantitative","title":null,"scale":{"domain":[0,1],"nice":false},"axis":{"orient":"right","labels":false,"values":[0.2,0.6,1]}}}}],"resolve":{"axis":{"x":"independent","y":"independent"}}},
{"height":80,"width":485,"data":{"name":"d4"},"layer":[{"mark":"line","encoding":{"x":{"field":"x","type":"quantitative","title":"Distance (km)","scale":{"domain":[0,190],"nice":false},"axis":{"labels":true}},"y":{"field":"y","type":"quantitative","title":"27d","scale":{"domain":[0,1],"nice":false},"axis":{"values":[0.2,0.6,1],"format":".1f"}},"color":{"field":"c","type":"quantitative","scale":{"domain":[0,6.25,12.5,18.75,25,31.25,37.5,43.75,50,56.25,62.5,68.75,75,81.25,87.5,93.75,100],"range":["#7f0000","#ff0000","#ff8000","#ffff00","#80ff80","#00ffff","#0080ff","#0000ff","#00007f","#0000ff","#0080ff","#00ffff","#80ff80","#ffff00","#ff8000","#ff0000","#7f0000"],"interpolate":"rgb"}},"detail":{"field":"c","type":"nominal"}}},{"mark":{"type":"point","opacity":0},"encoding":{"x":{"field":"x","type":"quantitative","title":null,"scale":{"domain":[0,190],"nice":false},"axis":{"orient":"top","labels":false}},"y":{"field":"y","type":"quantitative","title":null,"scale":{"domain":[0,1],"nice":false},"axis":{"orient":"right","labels":false,"values":[0.2,0.6,1]}}}}],"resolve":{"axis":{"x":"independent","y":"independent"}}}
]}]}
],"spacing":5}
],
"spacing":0
}
